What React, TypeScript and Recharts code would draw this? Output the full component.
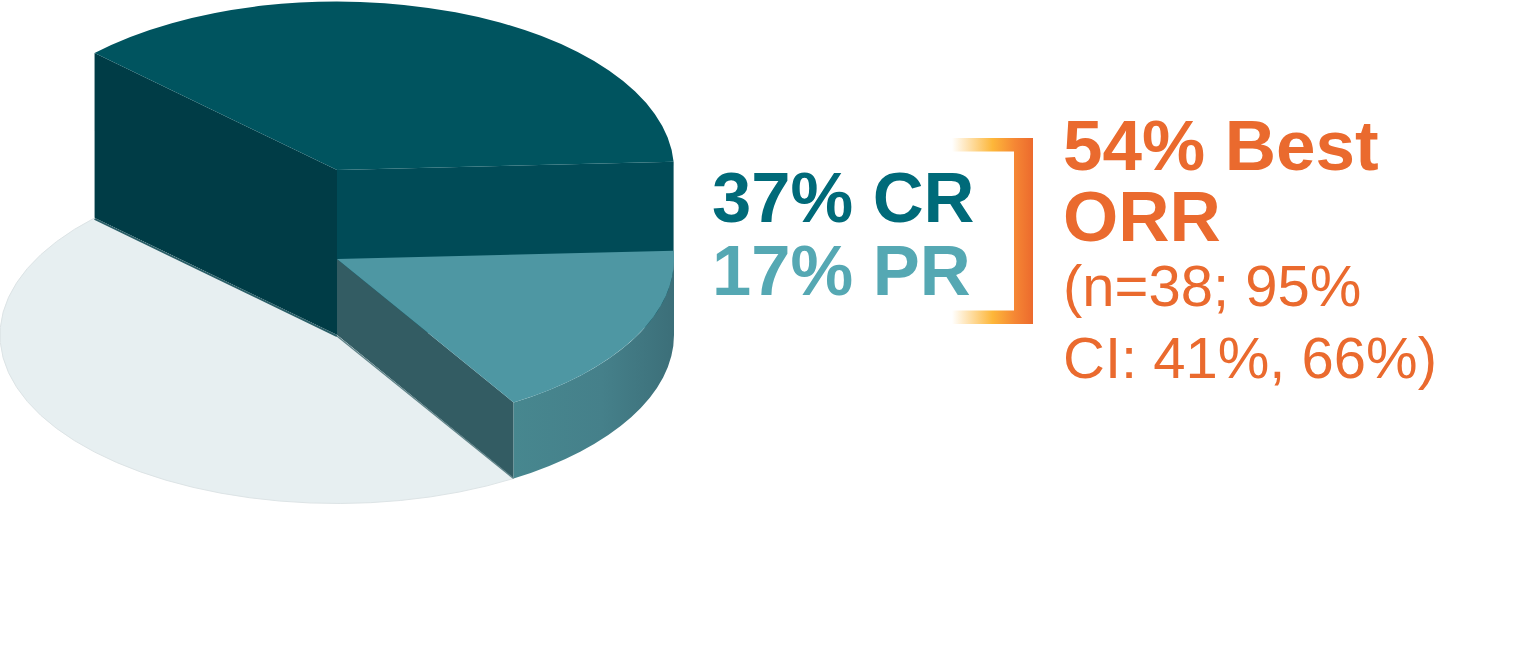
import { Pie, PieChart } from 'recharts';

const categories = ['CR', 'PR', 'No response'];
const percentages = [37, 17, 46];
const responseLabels = ['37% CR', '17% PR'];
const summaryTitle = ['54% Best', 'ORR'];
const summaryDetail = ['(n=38; 95%', 'CI: 41%, 66%)'];

const pieData = categories.map((name, i) => ({ name, value: percentages[i] }));

const RAD = Math.PI / 180;
const SQUASH = 0.5;
const LIFT: Record<string, number> = { CR: 165, PR: 76, 'No response': 0 };
const FILLS: Record<string, string> = { CR: '#00545f', PR: '#4e97a3', 'No response': '#e7eff1' };
const FONT = '"Liberation Sans", Arial, sans-serif';

function Slab(props: any) {
  const { cx, cy, outerRadius: r, startAngle, endAngle, name } = props;
  const lift = LIFT[name];
  const at = (angle: number, up: number) => ({
    x: cx + r * Math.cos(angle * RAD),
    y: cy - up - r * SQUASH * Math.sin(angle * RAD),
  });
  const arc = (to: { x: number; y: number }, from: number, end: number, sweep: number) =>
    `A${r} ${r * SQUASH} 0 ${Math.abs(end - from) > 180 ? 1 : 0} ${sweep} ${to.x} ${to.y}`;
  const quad = (a: any, b: any, c: any, d: any) =>
    `M${a.x} ${a.y}L${b.x} ${b.y}L${c.x} ${c.y}L${d.x} ${d.y}Z`;

  const hub = { x: cx, y: cy - lift };
  const hubBase = { x: cx, y: cy };
  const s = at(startAngle, lift);
  const e = at(endAngle, lift);
  const top = `M${hub.x} ${hub.y}L${s.x} ${s.y}${arc(e, startAngle, endAngle, 1)}Z`;

  if (name === 'CR') {
    return (
      <g>
        <path d={quad(at(startAngle, lift), hub, hubBase, at(startAngle, 0))} fill="#003c46" />
        <path d={quad(hub, at(endAngle, lift), at(endAngle, 0), hubBase)} fill="#004b57" />
        <path d={top} fill={FILLS.CR} />
      </g>
    );
  }
  if (name === 'PR') {
    const wallStart = Math.min(startAngle, 0);
    const a = at(wallStart, lift);
    const b = at(endAngle, lift);
    const c = at(endAngle, 0);
    const d = at(wallStart, 0);
    return (
      <g>
        <defs>
          <linearGradient id="prWall" x1="0" y1="0" x2="1" y2="0">
            <stop offset="0%" stopColor="#47878f" />
            <stop offset="55%" stopColor="#45808a" />
            <stop offset="100%" stopColor="#3c6f79" />
          </linearGradient>
        </defs>
        <path d={quad(hub, b, c, hubBase)} fill="#335c63" />
        <path
          d={`M${a.x} ${a.y}${arc(b, wallStart, endAngle, 1)}L${c.x} ${c.y}${arc(d, endAngle, wallStart, 0)}Z`}
          fill="url(#prWall)"
        />
        <path d={top} fill={FILLS.PR} />
      </g>
    );
  }
  // flat remainder, drawn last, so the thin shadow lines at the wall feet go here
  return (
    <g>
      <path d={top} fill={FILLS['No response']} />
      <path d={`M${s.x} ${s.y}${arc(e, startAngle, endAngle, 1)}`} fill="none" stroke="#dde4e6" strokeWidth={1} />
      <path d={`M${e.x} ${e.y + 1}L${hub.x} ${hub.y + 1}`} stroke="#2b5f68" strokeWidth={2} fill="none" />
      <path d={`M${hub.x} ${hub.y + 1}L${s.x} ${s.y}`} stroke="#5f8288" strokeWidth={1.5} fill="none" />
    </g>
  );
}

export default function App() {
  return (
    <div style={{ position: 'absolute', left: 0, top: 0, width: 1537, height: 645, background: '#fff', overflow: 'hidden' }}>
      <div style={{ position: 'absolute', left: 0, top: 0 }}>
        <PieChart width={1537} height={645} margin={{ top: 0, right: 0, bottom: 0, left: 0 }}>
          <Pie
            data={pieData}
            dataKey="value"
            nameKey="name"
            cx={337}
            cy={335}
            outerRadius={337}
            startAngle={136}
            endAngle={-224}
            stroke="none"
            shape={Slab}
            isAnimationActive={false}
          />
        </PieChart>
      </div>
      <svg width={1537} height={645} style={{ position: 'absolute', left: 0, top: 0 }}>
        <defs>
          <linearGradient id="bracket" gradientUnits="userSpaceOnUse" x1="952" y1="0" x2="1033" y2="0">
            <stop offset="0%" stopColor="#ffffff" />
            <stop offset="50%" stopColor="#fdb73a" />
            <stop offset="78%" stopColor="#f58634" />
            <stop offset="100%" stopColor="#ec6a2d" />
          </linearGradient>
        </defs>
        <path d="M952 138H1033V324H952V310.5H1014V151.5H952Z" fill="url(#bracket)" />
        <text x={712} y={222} fontFamily={FONT} fontWeight={700} fontSize={70.5} fill="#006a79">{responseLabels[0]}</text>
        <text x={712} y={295} fontFamily={FONT} fontWeight={700} fontSize={70.5} fill="#55a8b3">{responseLabels[1]}</text>
        <text x={1063} y={170} fontFamily={FONT} fontWeight={700} fontSize={71} fill="#ea6a2e">{summaryTitle[0]}</text>
        <text x={1063} y={241} fontFamily={FONT} fontWeight={700} fontSize={71} fill="#ea6a2e">{summaryTitle[1]}</text>
        <text x={1063} y={306} fontFamily={FONT} fontSize={58} fill="#ea6a2e">{summaryDetail[0]}</text>
        <text x={1063} y={378} fontFamily={FONT} fontSize={58} fill="#ea6a2e">{summaryDetail[1]}</text>
      </svg>
    </div>
  );
}
